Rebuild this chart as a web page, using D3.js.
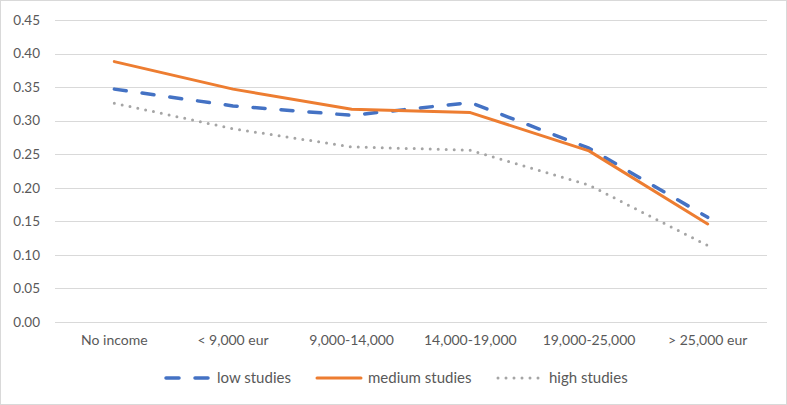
<!DOCTYPE html>
<html>
<head>
<script type="text/javascript" src="https://cdn.jsdelivr.net/npm/d3@7"></script>
<title>Income vs studies</title>
<style>
body { margin:0; background:#fff; }
</style>
</head>
<body>
<div id="chart"></div>
<script type="text/javascript">
(function(){

var categories = ["No income", "< 9,000 eur", "9,000-14,000", "14,000-19,000", "19,000-25,000", "> 25,000 eur"];
var lowStudies    = [0.347, 0.322, 0.308, 0.327, 0.259, 0.156];
var mediumStudies = [0.388, 0.347, 0.317, 0.312, 0.255, 0.146];
var highStudies   = [0.326, 0.288, 0.261, 0.256, 0.204, 0.114];
var yTicks = [0, 0.05, 0.10, 0.15, 0.20, 0.25, 0.30, 0.35, 0.40, 0.45];

var series = [
  {name:"low studies", values:lowStudies, color:"#4472c4", width:3.5, dash:"12,16", cap:"round"},
  {name:"medium studies", values:mediumStudies, color:"#ed7d31", width:3, dash:null, cap:"round"},
  {name:"high studies", values:highStudies, color:"#a5a5a5", width:3, dash:"0,8", cap:"round"}
];

var w = 787, h = 405;
var left = 55, right = 767, top = 20, bottom = 322;
var font = "Lato, 'Open Sans', sans-serif";

var svg = d3.select("#chart").append("svg")
    .attr("width", w).attr("height", h);

svg.append("rect")
   .attr("x", 0.5).attr("y", 0.5)
   .attr("width", w-1).attr("height", h-1)
   .attr("fill", "white").attr("stroke", "#d9d9d9");

var x = d3.scaleBand().domain(categories).range([left, right]);
var y = d3.scaleLinear().domain([0, 0.45]).range([bottom, top]);

// gridlines
svg.selectAll("line.grid")
   .data(yTicks)
   .enter().append("line")
   .attr("class", "grid")
   .attr("x1", left).attr("x2", right)
   .attr("y1", function(d){ return Math.round(y(d))+0.5; })
   .attr("y2", function(d){ return Math.round(y(d))+0.5; })
   .attr("stroke", "#d9d9d9").attr("stroke-width", 1);

// y axis labels
var yAxis = d3.axisLeft(y).tickValues(yTicks).tickFormat(d3.format(".2f")).tickSize(0).tickPadding(15);
var ya = svg.append("g").attr("transform", "translate(" + left + ",0)").call(yAxis);
ya.select(".domain").remove();
ya.selectAll("text").attr("fill", "#595959").style("font-family", font).style("font-size", "13.5px");

// x axis labels
var xAxis = d3.axisBottom(x).tickSize(0).tickPadding(13);
var xa = svg.append("g").attr("transform", "translate(0," + bottom + ")").call(xAxis);
xa.select(".domain").remove();
xa.selectAll("text").attr("fill", "#595959").style("font-family", font).style("font-size", "14px");

var line = d3.line()
   .x(function(d, i){ return x(categories[i]) + x.bandwidth()/2; })
   .y(function(d){ return y(d); });

svg.selectAll("path.series")
   .data(series)
   .enter().append("path")
   .attr("class", "series")
   .attr("d", function(s){ return line(s.values); })
   .attr("fill", "none")
   .attr("stroke", function(s){ return s.color; })
   .attr("stroke-width", function(s){ return s.width; })
   .attr("stroke-dasharray", function(s){ return s.dash; })
   .attr("stroke-linecap", function(s){ return s.cap; })
   .attr("stroke-linejoin", "round");

// legend
var legendX = [166, 317, 498];
var ly = 378;
var lg = svg.selectAll("g.legend")
   .data(series)
   .enter().append("g")
   .attr("class", "legend")
   .attr("transform", function(s, i){ return "translate(" + legendX[i] + "," + ly + ")"; });

lg.append("line")
  .attr("x1", 0).attr("x2", 44).attr("y1", 0).attr("y2", 0)
  .attr("stroke", function(s){ return s.color; })
  .attr("stroke-width", function(s){ return s.width; })
  .attr("stroke-dasharray", function(s){ return s.dash ? (s.name == "low studies" ? "13,16" : s.dash) : null; })
  .attr("stroke-linecap", function(s){ return s.cap; });

lg.append("text")
  .attr("x", 51).attr("y", 0).attr("dy", "0.35em")
  .attr("fill", "#595959").style("font-family", font).style("font-size", "15px")
  .text(function(s){ return s.name; });

})();
</script>
</body></html>
